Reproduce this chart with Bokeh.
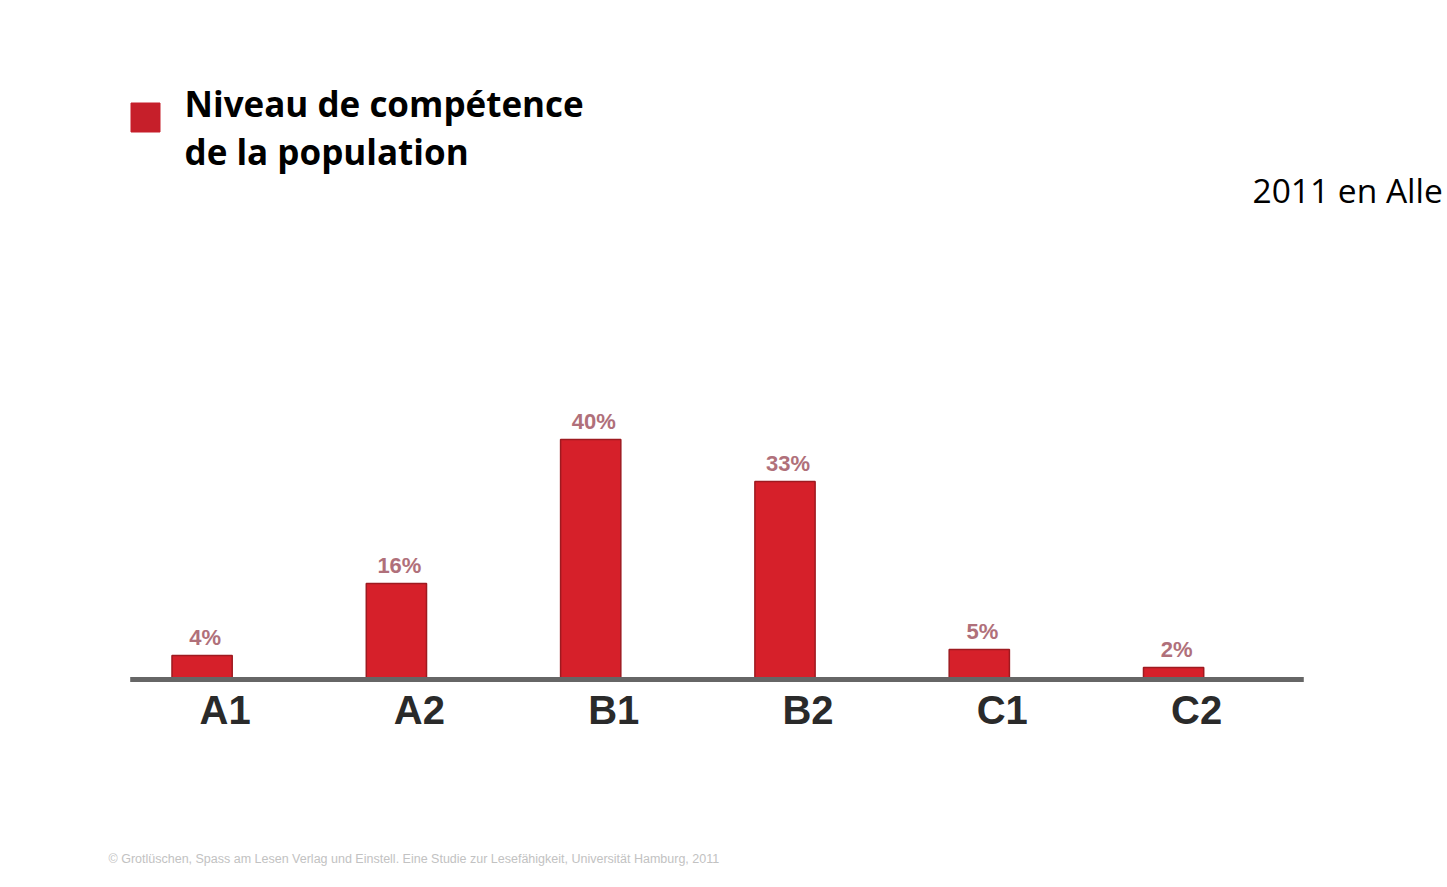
from bokeh.plotting import figure
from bokeh.models import Range1d
from bokeh.core.properties import value
from bokeh.embed import file_html
from bokeh.resources import INLINE

# ---- data ----
categories = ["A1", "A2", "B1", "B2", "C1", "C2"]
values = [4, 16, 40, 33, 5, 2]
value_labels = [f"{v}%" for v in values]
legend_lines = ["Niveau de compétence", "de la population"]
side_text = "2011 en Alle"
source_text = ("© Grotlüschen, Spass am Lesen Verlag und Einstell. Eine Studie zur "
               "Lesefähigkeit, Universität Hamburg, 2011")

# ---- layout helpers (canvas pixel -> data) ----
W, H = 1447, 887
PX_PER_CAT = 194.3
X_START = -201.6 / PX_PER_CAT
PX_PER_PCT = 6.0
ZERO_PX_Y = 679


def dx(px):
    return X_START + px / PX_PER_CAT


def dy(py):
    return (ZERO_PX_Y - py) / PX_PER_PCT


xs = list(range(len(categories)))

p = figure(width=W, height=H, output_backend="svg", toolbar_location=None,
           x_axis_type=None, y_axis_type=None, min_border=0,
           x_range=Range1d(X_START, X_START + W / PX_PER_CAT),
           y_range=Range1d(dy(H), dy(0)))
p.grid.visible = False
p.outline_line_color = None
p.background_fill_color = "white"
p.border_fill_color = "white"

# bars
p.vbar(x=xs, top=values, bottom=0, width=0.31, fill_color="#d6202a",
       line_color="#9e1a20", line_width=1.5)

# baseline
p.segment(x0=[xs[0] - 0.37], x1=[xs[-1] + 0.67], y0=[0], y1=[0],
          line_color="#666666", line_width=5)

# value labels
p.text(x=xs, y=values, text=value_labels, x_offset=3, y_offset=-6,
       text_align="center", text_baseline="bottom",
       text_font=value("Liberation Sans"), text_font_style="bold",
       text_font_size="22px", text_color="#b0707a")

# category labels
p.text(x=xs, y=[0] * len(xs), text=categories, x_offset=23, y_offset=30,
       text_align="center", text_baseline="middle",
       text_font=value("Liberation Sans"), text_font_style="bold",
       text_font_size="40px", text_color="#2a2a2a")

# legend
p.scatter(x=[dx(145)], y=[dy(117)], marker="square", size=29,
          fill_color="#c61f2a", line_color="#c61f2a")
p.text(x=[dx(184), dx(184)], y=[dy(103), dy(151)], text=legend_lines,
       text_align="left", text_baseline="alphabetic",
       text_font=value("Open Sans"), text_font_style="bold",
       text_font_size="35px", text_color="#000000")

# side text
p.text(x=[dx(1252)], y=[dy(189)], text=[side_text],
       text_align="left", text_baseline="alphabetic",
       text_font=value("Open Sans"), text_font_size="33.5px",
       text_color="#000000")

# source
p.text(x=[dx(108)], y=[dy(858)], text=[source_text],
       text_align="left", text_baseline="middle",
       text_font=value("Liberation Sans"), text_font_size="12.5px",
       text_color="#c2c2c2")

open("out.html", "w").write(file_html(p, INLINE))
